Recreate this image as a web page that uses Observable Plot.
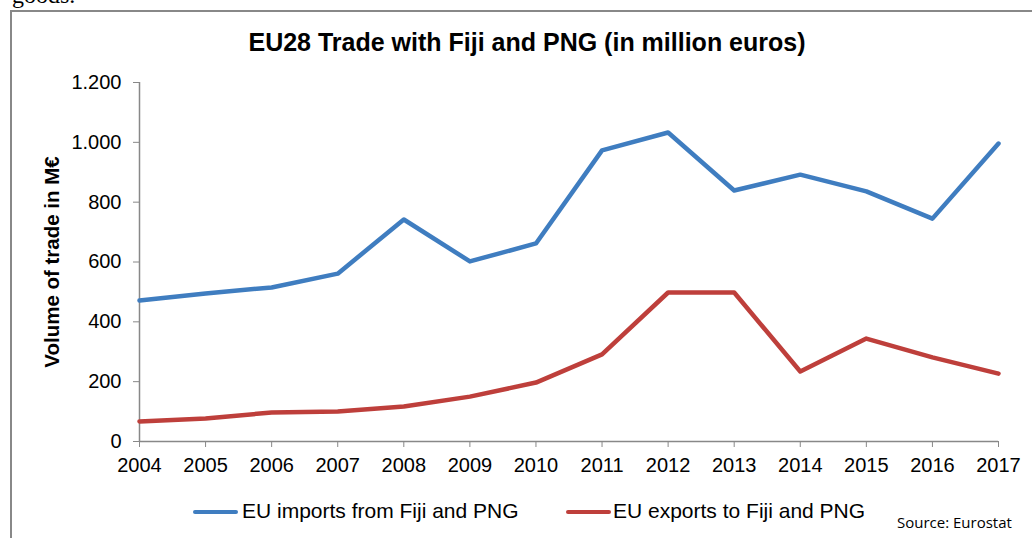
<!DOCTYPE html>
<html>
<head>
<meta charset="utf-8">
<script src="https://cdn.jsdelivr.net/npm/d3@7"></script>
<script src="https://cdn.jsdelivr.net/npm/@observablehq/plot@0.6"></script>
<style>
  html, body { margin: 0; padding: 0; background: #fff; width: 1032px; height: 538px; overflow: hidden; position: relative; font-family: "Liberation Sans", Arial, sans-serif; }
  .abs { position: absolute; white-space: nowrap; }
  #box { position: absolute; left: 10px; top: 10px; width: 1100px; height: 600px; border: 2px solid #888; box-sizing: border-box; }
  #chart { position: absolute; left: 0; top: 0; }
  .leg-line { position: absolute; height: 4px; border-radius: 2px; }
</style>
</head>
<body>
<div class="abs" style="left:12px; top:-18px; font-family:'Liberation Serif','Times New Roman',serif; font-size:24px; color:#000;">goods.</div>
<div id="box"></div>
<div id="chart"></div>
<div class="abs" id="title" style="left:0; width:1054px; text-align:center; top:28px; font-weight:bold; font-size:25px; color:#000;">EU28 Trade with Fiji and PNG (in million euros)</div>
<div class="abs" id="ylabel" style="left:52px; top:262px; transform: translate(-50%,-50%) rotate(-90deg); font-weight:bold; font-size:20.5px; color:#000;">Volume of trade in M€</div>
<div class="leg-line" style="left:193px; width:45px; top:510px; background:#3f7dc0;"></div>
<div class="abs" style="left:242px; top:499px; font-size:21px; color:#000;">EU imports from Fiji and PNG</div>
<div class="leg-line" style="left:566px; width:45px; top:510px; background:#be3f3b;"></div>
<div class="abs" style="left:613px; top:499px; font-size:21px; color:#000;">EU exports to Fiji and PNG</div>
<div class="abs" style="left:897px; top:512px; font-family:'Open Sans','Noto Sans',sans-serif; font-size:15px; color:#000;">Source: Eurostat</div>
<script>
const years = [2004, 2005, 2006, 2007, 2008, 2009, 2010, 2011, 2012, 2013, 2014, 2015, 2016, 2017];
const imports = [471, 495, 515, 561, 742, 602, 662, 973, 1033, 839, 892, 836, 745, 996];
const exports = [67, 77, 97, 100, 117, 150, 197, 291, 498, 498, 234, 344, 281, 227];
const yTicks = [0, 200, 400, 600, 800, 1000, 1200];
const seriesNames = ["EU imports from Fiji and PNG", "EU exports to Fiji and PNG"];
const seriesColors = ["#3f7dc0", "#be3f3b"];

const data = [];
years.forEach((yr, i) => {
  data.push({year: yr, value: imports[i], series: seriesNames[0]});
  data.push({year: yr, value: exports[i], series: seriesNames[1]});
});

const fmt = d => d3.format(",")(d).replace(/,/g, ".");

const chart = Plot.plot({
  width: 1032,
  height: 538,
  marginLeft: 139,
  marginRight: 34,
  marginTop: 82,
  marginBottom: 97,
  style: {background: "transparent", fontFamily: "'Liberation Sans', Arial, sans-serif", fontSize: "20px", color: "#000"},
  x: {type: "linear", domain: [2004, 2017]},
  y: {domain: [0, 1200]},
  color: {domain: seriesNames, range: seriesColors},
  marks: [
    Plot.ruleY([0], {stroke: "#888", strokeWidth: 1.5}),
    Plot.ruleX([2004], {stroke: "#888", strokeWidth: 1.5}),
    Plot.axisY({ticks: yTicks, tickFormat: fmt, tickSize: 6, tickPadding: 12, stroke: "#888", fill: "#000", label: null}),
    Plot.axisX({ticks: years, tickFormat: d => String(d), tickSize: 6, tickPadding: 10, stroke: "#888", fill: "#000", label: null}),
    Plot.line(data, {x: "year", y: "value", z: "series", stroke: "series", strokeWidth: 4.5, strokeLinejoin: "round"})
  ]
});
document.getElementById("chart").appendChild(chart);
</script>
</body>
</html>
